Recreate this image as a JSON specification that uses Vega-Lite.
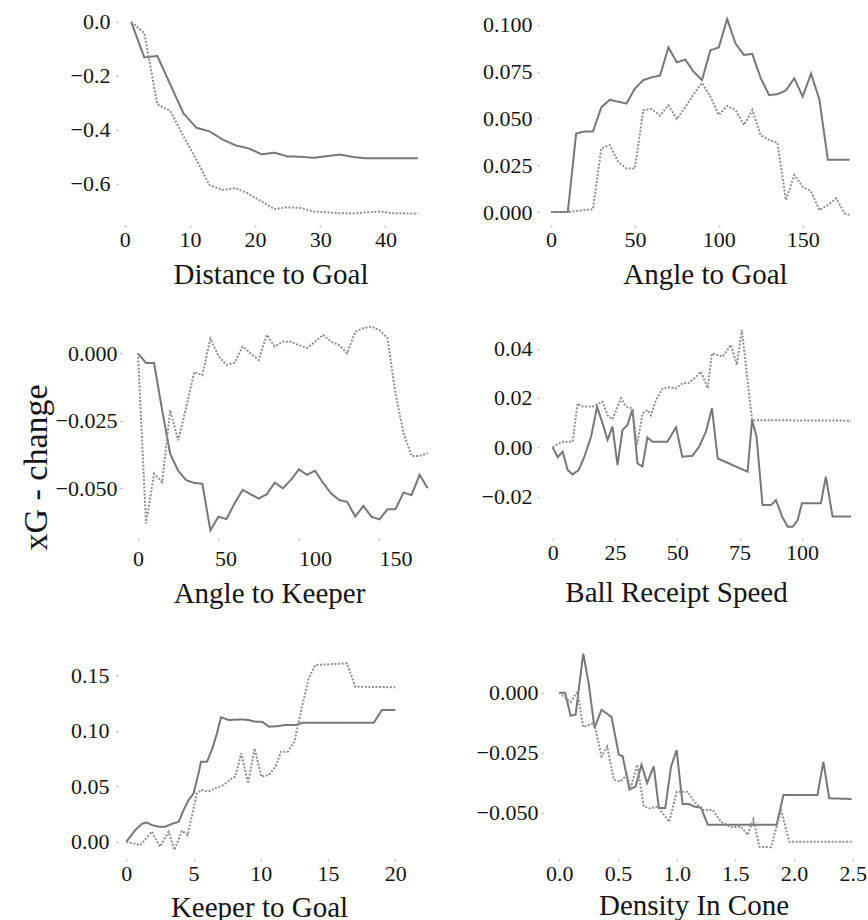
{
  "$schema": "https://vega.github.io/schema/vega-lite/v6.json",
  "background": "white",
  "autosize": {"type": "pad"},
  "padding": {"left": 18, "top": 10, "right": 2, "bottom": 2},
  "config": {
    "font": "Liberation Serif",
    "view": {"stroke": null},
    "axis": {
      "grid": false,
      "domain": false,
      "tickColor": "#b8b8b8",
      "tickSize": 2,
      "tickWidth": 1.6,
      "labelFont": "Liberation Serif",
      "labelFontSize": 22,
      "labelColor": "#141414",
      "titleFont": "Liberation Serif",
      "titleFontSize": 29,
      "titleFontWeight": "normal",
      "titleColor": "#141414"
    },
    "axisX": {"labelAngle": 0, "labelBaseline": "alphabetic", "labelPadding": 19, "labelFlush": false, "titleBaseline": "alphabetic", "titleAnchor": "middle", "titleAlign": "center"},
    "axisY": {"labelPadding": 5, "labelFlush": false},
    "line": {"strokeWidth": 2, "strokeCap": "butt", "strokeJoin": "miter", "interpolate": "linear"}
  },
  "datasets": {
    "dist": [
      {"x": 1, "y": 0, "m": "a"}, {"x": 3, "y": -0.131, "m": "a"}, {"x": 5, "y": -0.126, "m": "a"}, {"x": 7, "y": -0.232, "m": "a"}, {"x": 9, "y": -0.338, "m": "a"}, {"x": 11, "y": -0.392, "m": "a"}, {"x": 13, "y": -0.405, "m": "a"}, {"x": 15, "y": -0.435, "m": "a"}, {"x": 17, "y": -0.457, "m": "a"}, {"x": 19, "y": -0.468, "m": "a"}, {"x": 21, "y": -0.49, "m": "a"}, {"x": 23, "y": -0.484, "m": "a"}, {"x": 25, "y": -0.498, "m": "a"}, {"x": 27, "y": -0.499, "m": "a"}, {"x": 29, "y": -0.503, "m": "a"}, {"x": 31, "y": -0.497, "m": "a"}, {"x": 33, "y": -0.491, "m": "a"}, {"x": 35, "y": -0.5, "m": "a"}, {"x": 37, "y": -0.505, "m": "a"}, {"x": 39, "y": -0.505, "m": "a"}, {"x": 41, "y": -0.505, "m": "a"}, {"x": 43, "y": -0.505, "m": "a"}, {"x": 45, "y": -0.505, "m": "a"},
      {"x": 1, "y": 0, "m": "b"}, {"x": 3, "y": -0.04, "m": "b"}, {"x": 5, "y": -0.305, "m": "b"}, {"x": 7, "y": -0.33, "m": "b"}, {"x": 9, "y": -0.423, "m": "b"}, {"x": 11, "y": -0.51, "m": "b"}, {"x": 13, "y": -0.604, "m": "b"}, {"x": 15, "y": -0.622, "m": "b"}, {"x": 17, "y": -0.615, "m": "b"}, {"x": 19, "y": -0.636, "m": "b"}, {"x": 21, "y": -0.665, "m": "b"}, {"x": 23, "y": -0.693, "m": "b"}, {"x": 25, "y": -0.686, "m": "b"}, {"x": 27, "y": -0.689, "m": "b"}, {"x": 29, "y": -0.702, "m": "b"}, {"x": 31, "y": -0.705, "m": "b"}, {"x": 33, "y": -0.708, "m": "b"}, {"x": 35, "y": -0.709, "m": "b"}, {"x": 37, "y": -0.705, "m": "b"}, {"x": 39, "y": -0.702, "m": "b"}, {"x": 41, "y": -0.708, "m": "b"}, {"x": 43, "y": -0.709, "m": "b"}, {"x": 45, "y": -0.709, "m": "b"}
    ],
    "goalAngle": [
      {"x": 0, "y": 0, "m": "a"}, {"x": 5, "y": 0, "m": "a"}, {"x": 10, "y": 0, "m": "a"}, {"x": 15, "y": 0.042, "m": "a"}, {"x": 20, "y": 0.043, "m": "a"}, {"x": 25, "y": 0.043, "m": "a"}, {"x": 30, "y": 0.056, "m": "a"}, {"x": 35, "y": 0.06, "m": "a"}, {"x": 40, "y": 0.059, "m": "a"}, {"x": 45, "y": 0.058, "m": "a"}, {"x": 50, "y": 0.066, "m": "a"}, {"x": 55, "y": 0.0705, "m": "a"}, {"x": 60, "y": 0.072, "m": "a"}, {"x": 65, "y": 0.073, "m": "a"}, {"x": 70, "y": 0.088, "m": "a"}, {"x": 75, "y": 0.08, "m": "a"}, {"x": 80, "y": 0.0815, "m": "a"}, {"x": 85, "y": 0.075, "m": "a"}, {"x": 90, "y": 0.0705, "m": "a"}, {"x": 95, "y": 0.0865, "m": "a"}, {"x": 100, "y": 0.088, "m": "a"}, {"x": 105, "y": 0.1032, "m": "a"}, {"x": 110, "y": 0.09, "m": "a"}, {"x": 115, "y": 0.084, "m": "a"}, {"x": 120, "y": 0.0845, "m": "a"}, {"x": 125, "y": 0.0715, "m": "a"}, {"x": 130, "y": 0.0625, "m": "a"}, {"x": 135, "y": 0.063, "m": "a"}, {"x": 140, "y": 0.065, "m": "a"}, {"x": 145, "y": 0.0715, "m": "a"}, {"x": 150, "y": 0.0617, "m": "a"}, {"x": 155, "y": 0.074, "m": "a"}, {"x": 160, "y": 0.06, "m": "a"}, {"x": 165, "y": 0.028, "m": "a"}, {"x": 170, "y": 0.028, "m": "a"}, {"x": 175, "y": 0.028, "m": "a"}, {"x": 178, "y": 0.028, "m": "a"},
      {"x": 0, "y": 0, "m": "b"}, {"x": 5, "y": 0, "m": "b"}, {"x": 10, "y": 0, "m": "b"}, {"x": 15, "y": 0.0005, "m": "b"}, {"x": 20, "y": 0.001, "m": "b"}, {"x": 25, "y": 0.0015, "m": "b"}, {"x": 30, "y": 0.034, "m": "b"}, {"x": 35, "y": 0.0358, "m": "b"}, {"x": 40, "y": 0.027, "m": "b"}, {"x": 45, "y": 0.0233, "m": "b"}, {"x": 50, "y": 0.0233, "m": "b"}, {"x": 55, "y": 0.0545, "m": "b"}, {"x": 60, "y": 0.055, "m": "b"}, {"x": 65, "y": 0.0515, "m": "b"}, {"x": 70, "y": 0.057, "m": "b"}, {"x": 75, "y": 0.0497, "m": "b"}, {"x": 80, "y": 0.056, "m": "b"}, {"x": 85, "y": 0.063, "m": "b"}, {"x": 90, "y": 0.069, "m": "b"}, {"x": 95, "y": 0.0617, "m": "b"}, {"x": 100, "y": 0.0519, "m": "b"}, {"x": 105, "y": 0.0567, "m": "b"}, {"x": 110, "y": 0.0545, "m": "b"}, {"x": 115, "y": 0.0465, "m": "b"}, {"x": 120, "y": 0.0545, "m": "b"}, {"x": 125, "y": 0.041, "m": "b"}, {"x": 130, "y": 0.0385, "m": "b"}, {"x": 135, "y": 0.037, "m": "b"}, {"x": 140, "y": 0.0064, "m": "b"}, {"x": 145, "y": 0.0198, "m": "b"}, {"x": 150, "y": 0.0135, "m": "b"}, {"x": 155, "y": 0.011, "m": "b"}, {"x": 160, "y": 0.001, "m": "b"}, {"x": 165, "y": 0.0037, "m": "b"}, {"x": 170, "y": 0.0073, "m": "b"}, {"x": 175, "y": -0.0007, "m": "b"}, {"x": 178, "y": -0.0016, "m": "b"}
    ],
    "keeperAngle": [
      {"x": 0, "y": 0, "m": "a"}, {"x": 5, "y": -0.0036, "m": "a"}, {"x": 10, "y": -0.0036, "m": "a"}, {"x": 15, "y": -0.021, "m": "a"}, {"x": 20, "y": -0.0372, "m": "a"}, {"x": 25, "y": -0.0435, "m": "a"}, {"x": 30, "y": -0.047, "m": "a"}, {"x": 35, "y": -0.048, "m": "a"}, {"x": 40, "y": -0.0483, "m": "a"}, {"x": 45, "y": -0.0656, "m": "a"}, {"x": 50, "y": -0.0605, "m": "a"}, {"x": 55, "y": -0.0614, "m": "a"}, {"x": 60, "y": -0.0556, "m": "a"}, {"x": 65, "y": -0.0506, "m": "a"}, {"x": 70, "y": -0.0522, "m": "a"}, {"x": 75, "y": -0.0538, "m": "a"}, {"x": 80, "y": -0.0522, "m": "a"}, {"x": 85, "y": -0.0479, "m": "a"}, {"x": 90, "y": -0.05, "m": "a"}, {"x": 95, "y": -0.0469, "m": "a"}, {"x": 100, "y": -0.043, "m": "a"}, {"x": 105, "y": -0.045, "m": "a"}, {"x": 110, "y": -0.0435, "m": "a"}, {"x": 115, "y": -0.048, "m": "a"}, {"x": 120, "y": -0.0519, "m": "a"}, {"x": 125, "y": -0.0543, "m": "a"}, {"x": 130, "y": -0.055, "m": "a"}, {"x": 135, "y": -0.0605, "m": "a"}, {"x": 140, "y": -0.0565, "m": "a"}, {"x": 145, "y": -0.0605, "m": "a"}, {"x": 150, "y": -0.0615, "m": "a"}, {"x": 155, "y": -0.0578, "m": "a"}, {"x": 160, "y": -0.0577, "m": "a"}, {"x": 165, "y": -0.0516, "m": "a"}, {"x": 170, "y": -0.0525, "m": "a"}, {"x": 175, "y": -0.045, "m": "a"}, {"x": 180, "y": -0.05, "m": "a"},
      {"x": 0, "y": 0, "m": "b"}, {"x": 5, "y": -0.063, "m": "b"}, {"x": 10, "y": -0.0446, "m": "b"}, {"x": 15, "y": -0.0477, "m": "b"}, {"x": 20, "y": -0.0211, "m": "b"}, {"x": 25, "y": -0.0322, "m": "b"}, {"x": 30, "y": -0.02, "m": "b"}, {"x": 35, "y": -0.0069, "m": "b"}, {"x": 40, "y": -0.0081, "m": "b"}, {"x": 45, "y": 0.0054, "m": "b"}, {"x": 50, "y": -0.001, "m": "b"}, {"x": 55, "y": -0.0043, "m": "b"}, {"x": 60, "y": -0.0035, "m": "b"}, {"x": 65, "y": 0.0025, "m": "b"}, {"x": 70, "y": 0.0, "m": "b"}, {"x": 75, "y": -0.0025, "m": "b"}, {"x": 80, "y": 0.0068, "m": "b"}, {"x": 85, "y": 0.0025, "m": "b"}, {"x": 90, "y": 0.0043, "m": "b"}, {"x": 95, "y": 0.0043, "m": "b"}, {"x": 100, "y": 0.003, "m": "b"}, {"x": 105, "y": 0.0019, "m": "b"}, {"x": 110, "y": 0.0043, "m": "b"}, {"x": 115, "y": 0.0068, "m": "b"}, {"x": 120, "y": 0.0043, "m": "b"}, {"x": 125, "y": 0.003, "m": "b"}, {"x": 130, "y": 0.0, "m": "b"}, {"x": 135, "y": 0.008, "m": "b"}, {"x": 140, "y": 0.0093, "m": "b"}, {"x": 145, "y": 0.0099, "m": "b"}, {"x": 150, "y": 0.0086, "m": "b"}, {"x": 155, "y": 0.0056, "m": "b"}, {"x": 160, "y": -0.0148, "m": "b"}, {"x": 165, "y": -0.0296, "m": "b"}, {"x": 170, "y": -0.038, "m": "b"}, {"x": 175, "y": -0.038, "m": "b"}, {"x": 180, "y": -0.037, "m": "b"}
    ],
    "receiptSpeed": [
      {"x": 0, "y": 0, "m": "a"}, {"x": 2, "y": -0.004, "m": "a"}, {"x": 4, "y": -0.0018, "m": "a"}, {"x": 6, "y": -0.0092, "m": "a"}, {"x": 8, "y": -0.011, "m": "a"}, {"x": 10.4, "y": -0.0092, "m": "a"}, {"x": 12.7, "y": -0.0038, "m": "a"}, {"x": 15.4, "y": 0.0043, "m": "a"}, {"x": 17.8, "y": 0.0165, "m": "a"}, {"x": 20, "y": 0.0097, "m": "a"}, {"x": 22, "y": 0.003, "m": "a"}, {"x": 24, "y": 0.0084, "m": "a"}, {"x": 26, "y": -0.0072, "m": "a"}, {"x": 28, "y": 0.007, "m": "a"}, {"x": 30, "y": 0.009, "m": "a"}, {"x": 32, "y": 0.0154, "m": "a"}, {"x": 34, "y": -0.0065, "m": "a"}, {"x": 36, "y": -0.0078, "m": "a"}, {"x": 38, "y": 0.004, "m": "a"}, {"x": 40, "y": 0.0023, "m": "a"}, {"x": 46, "y": 0.0023, "m": "a"}, {"x": 49.5, "y": 0.0081, "m": "a"}, {"x": 52, "y": -0.0038, "m": "a"}, {"x": 56, "y": -0.0035, "m": "a"}, {"x": 58.8, "y": 0.0003, "m": "a"}, {"x": 61.5, "y": 0.0064, "m": "a"}, {"x": 63.9, "y": 0.0158, "m": "a"}, {"x": 66.2, "y": -0.0045, "m": "a"}, {"x": 78.2, "y": -0.0099, "m": "a"}, {"x": 80, "y": 0.011, "m": "a"}, {"x": 81.8, "y": 0.0043, "m": "a"}, {"x": 84.2, "y": -0.0234, "m": "a"}, {"x": 87.6, "y": -0.0234, "m": "a"}, {"x": 89.6, "y": -0.0214, "m": "a"}, {"x": 92, "y": -0.028, "m": "a"}, {"x": 94.3, "y": -0.0322, "m": "a"}, {"x": 96.3, "y": -0.0322, "m": "a"}, {"x": 98.3, "y": -0.0295, "m": "a"}, {"x": 100, "y": -0.0227, "m": "a"}, {"x": 107.6, "y": -0.0227, "m": "a"}, {"x": 109.6, "y": -0.0119, "m": "a"}, {"x": 112.3, "y": -0.0281, "m": "a"}, {"x": 119.7, "y": -0.0281, "m": "a"},
      {"x": 0, "y": 0, "m": "b"}, {"x": 3.7, "y": 0.0023, "m": "b"}, {"x": 8, "y": 0.0023, "m": "b"}, {"x": 10, "y": 0.0178, "m": "b"}, {"x": 12, "y": 0.0165, "m": "b"}, {"x": 16, "y": 0.0165, "m": "b"}, {"x": 20, "y": 0.0185, "m": "b"}, {"x": 22, "y": 0.013, "m": "b"}, {"x": 24, "y": 0.0114, "m": "b"}, {"x": 27.4, "y": 0.0199, "m": "b"}, {"x": 29.4, "y": 0.0165, "m": "b"}, {"x": 32, "y": 0.0158, "m": "b"}, {"x": 33.8, "y": 0.001, "m": "b"}, {"x": 36.1, "y": 0.0138, "m": "b"}, {"x": 38.1, "y": 0.0151, "m": "b"}, {"x": 39.4, "y": 0.013, "m": "b"}, {"x": 41.4, "y": 0.019, "m": "b"}, {"x": 44.1, "y": 0.0239, "m": "b"}, {"x": 46.8, "y": 0.0243, "m": "b"}, {"x": 49.5, "y": 0.0239, "m": "b"}, {"x": 52.1, "y": 0.026, "m": "b"}, {"x": 54.8, "y": 0.0262, "m": "b"}, {"x": 57.5, "y": 0.0286, "m": "b"}, {"x": 59.5, "y": 0.0307, "m": "b"}, {"x": 62.2, "y": 0.0239, "m": "b"}, {"x": 63.9, "y": 0.0381, "m": "b"}, {"x": 66.2, "y": 0.0374, "m": "b"}, {"x": 68.2, "y": 0.0368, "m": "b"}, {"x": 71.5, "y": 0.0415, "m": "b"}, {"x": 73.9, "y": 0.0334, "m": "b"}, {"x": 75.9, "y": 0.0476, "m": "b"}, {"x": 80, "y": 0.011, "m": "b"}, {"x": 119.7, "y": 0.0108, "m": "b"}
    ],
    "keeperGoal": [
      {"x": 0, "y": 0, "m": "a"}, {"x": 0.67, "y": 0.0105, "m": "a"}, {"x": 1.16, "y": 0.016, "m": "a"}, {"x": 1.54, "y": 0.0174, "m": "a"}, {"x": 1.9, "y": 0.015, "m": "a"}, {"x": 2.4, "y": 0.0135, "m": "a"}, {"x": 2.9, "y": 0.0135, "m": "a"}, {"x": 3.5, "y": 0.0165, "m": "a"}, {"x": 3.9, "y": 0.018, "m": "a"}, {"x": 4.26, "y": 0.0285, "m": "a"}, {"x": 4.63, "y": 0.0375, "m": "a"}, {"x": 5, "y": 0.0435, "m": "a"}, {"x": 5.4, "y": 0.063, "m": "a"}, {"x": 5.55, "y": 0.072, "m": "a"}, {"x": 6, "y": 0.072, "m": "a"}, {"x": 6.4, "y": 0.084, "m": "a"}, {"x": 6.74, "y": 0.0975, "m": "a"}, {"x": 7.04, "y": 0.112, "m": "a"}, {"x": 7.6, "y": 0.1095, "m": "a"}, {"x": 8.6, "y": 0.11, "m": "a"}, {"x": 9.1, "y": 0.1095, "m": "a"}, {"x": 9.6, "y": 0.108, "m": "a"}, {"x": 10.1, "y": 0.108, "m": "a"}, {"x": 10.6, "y": 0.1035, "m": "a"}, {"x": 11.3, "y": 0.104, "m": "a"}, {"x": 11.8, "y": 0.105, "m": "a"}, {"x": 12.6, "y": 0.105, "m": "a"}, {"x": 13.1, "y": 0.107, "m": "a"}, {"x": 18.4, "y": 0.107, "m": "a"}, {"x": 19, "y": 0.1185, "m": "a"}, {"x": 20, "y": 0.1185, "m": "a"},
      {"x": 0, "y": 0, "m": "b"}, {"x": 1.04, "y": -0.003, "m": "b"}, {"x": 1.9, "y": 0.009, "m": "b"}, {"x": 2.5, "y": -0.0045, "m": "b"}, {"x": 3.15, "y": 0.009, "m": "b"}, {"x": 3.57, "y": -0.0075, "m": "b"}, {"x": 4.14, "y": 0.0099, "m": "b"}, {"x": 4.56, "y": 0.006, "m": "b"}, {"x": 5.25, "y": 0.0435, "m": "b"}, {"x": 5.6, "y": 0.0465, "m": "b"}, {"x": 6.1, "y": 0.045, "m": "b"}, {"x": 6.6, "y": 0.048, "m": "b"}, {"x": 7.24, "y": 0.051, "m": "b"}, {"x": 7.86, "y": 0.057, "m": "b"}, {"x": 8.1, "y": 0.0585, "m": "b"}, {"x": 8.55, "y": 0.0795, "m": "b"}, {"x": 9.05, "y": 0.0525, "m": "b"}, {"x": 9.54, "y": 0.084, "m": "b"}, {"x": 10.04, "y": 0.0585, "m": "b"}, {"x": 10.6, "y": 0.06, "m": "b"}, {"x": 11.1, "y": 0.0675, "m": "b"}, {"x": 11.5, "y": 0.081, "m": "b"}, {"x": 12, "y": 0.081, "m": "b"}, {"x": 12.5, "y": 0.09, "m": "b"}, {"x": 13.06, "y": 0.1215, "m": "b"}, {"x": 13.56, "y": 0.147, "m": "b"}, {"x": 14.05, "y": 0.159, "m": "b"}, {"x": 16.4, "y": 0.1605, "m": "b"}, {"x": 17.03, "y": 0.1395, "m": "b"}, {"x": 20, "y": 0.139, "m": "b"}
    ],
    "coneDensity": [
      {"x": 0, "y": 0, "m": "a"}, {"x": 0.05, "y": 0, "m": "a"}, {"x": 0.096, "y": -0.0096, "m": "a"}, {"x": 0.139, "y": -0.0092, "m": "a"}, {"x": 0.204, "y": 0.0163, "m": "a"}, {"x": 0.25, "y": 0.004, "m": "a"}, {"x": 0.3, "y": -0.0147, "m": "a"}, {"x": 0.36, "y": -0.0071, "m": "a"}, {"x": 0.445, "y": -0.0101, "m": "a"}, {"x": 0.507, "y": -0.0258, "m": "a"}, {"x": 0.54, "y": -0.0265, "m": "a"}, {"x": 0.598, "y": -0.0404, "m": "a"}, {"x": 0.65, "y": -0.039, "m": "a"}, {"x": 0.7, "y": -0.03, "m": "a"}, {"x": 0.748, "y": -0.0376, "m": "a"}, {"x": 0.805, "y": -0.0307, "m": "a"}, {"x": 0.848, "y": -0.048, "m": "a"}, {"x": 0.903, "y": -0.048, "m": "a"}, {"x": 0.952, "y": -0.0308, "m": "a"}, {"x": 1.0, "y": -0.0239, "m": "a"}, {"x": 1.05, "y": -0.0464, "m": "a"}, {"x": 1.108, "y": -0.0464, "m": "a"}, {"x": 1.15, "y": -0.0475, "m": "a"}, {"x": 1.207, "y": -0.0478, "m": "a"}, {"x": 1.264, "y": -0.055, "m": "a"}, {"x": 1.852, "y": -0.055, "m": "a"}, {"x": 1.91, "y": -0.0426, "m": "a"}, {"x": 2.2, "y": -0.0426, "m": "a"}, {"x": 2.25, "y": -0.0288, "m": "a"}, {"x": 2.3, "y": -0.044, "m": "a"}, {"x": 2.49, "y": -0.0443, "m": "a"},
      {"x": 0, "y": 0, "m": "b"}, {"x": 0.096, "y": -0.004, "m": "b"}, {"x": 0.153, "y": 0.0005, "m": "b"}, {"x": 0.204, "y": -0.0143, "m": "b"}, {"x": 0.295, "y": -0.0126, "m": "b"}, {"x": 0.36, "y": -0.0265, "m": "b"}, {"x": 0.408, "y": -0.0224, "m": "b"}, {"x": 0.465, "y": -0.0363, "m": "b"}, {"x": 0.52, "y": -0.037, "m": "b"}, {"x": 0.578, "y": -0.0342, "m": "b"}, {"x": 0.606, "y": -0.0404, "m": "b"}, {"x": 0.663, "y": -0.03, "m": "b"}, {"x": 0.72, "y": -0.0474, "m": "b"}, {"x": 0.767, "y": -0.0482, "m": "b"}, {"x": 0.838, "y": -0.0475, "m": "b"}, {"x": 0.937, "y": -0.0538, "m": "b"}, {"x": 1.0, "y": -0.0413, "m": "b"}, {"x": 1.094, "y": -0.0413, "m": "b"}, {"x": 1.15, "y": -0.0454, "m": "b"}, {"x": 1.222, "y": -0.0489, "m": "b"}, {"x": 1.307, "y": -0.0489, "m": "b"}, {"x": 1.378, "y": -0.0538, "m": "b"}, {"x": 1.463, "y": -0.0561, "m": "b"}, {"x": 1.548, "y": -0.0558, "m": "b"}, {"x": 1.605, "y": -0.0593, "m": "b"}, {"x": 1.653, "y": -0.0528, "m": "b"}, {"x": 1.705, "y": -0.0642, "m": "b"}, {"x": 1.804, "y": -0.0644, "m": "b"}, {"x": 1.889, "y": -0.0489, "m": "b"}, {"x": 1.96, "y": -0.0621, "m": "b"}, {"x": 2.49, "y": -0.0621, "m": "b"}
    ]
  },
  "columns": 2,
  "align": "each",
  "bounds": "flush",
  "spacing": {"row": 98, "column": 111},
  "concat": [
    {
      "width": 310, "height": 215,
      "data": {"name": "dist"},
      "mark": "line",
      "encoding": {
        "x": {"field": "x", "type": "quantitative", "scale": {"domain": [-1.03, 46.52], "nice": false, "zero": false},
              "axis": {"values": [0, 10, 20, 30, 40], "format": "d", "title": "Distance to Goal", "titleX": 152.5, "titleY": 58}},
        "y": {"field": "y", "type": "quantitative", "scale": {"domain": [-0.7519, 0.0444], "nice": false, "zero": false},
              "axis": {"values": [0, -0.2, -0.4, -0.6], "format": ".1f", "title": null, "labelPadding": 6}},
        "color": {"field": "m", "type": "nominal", "scale": {"domain": ["a", "b"], "range": ["#777777", "#8e8e8e"]}, "legend": null},
        "strokeDash": {"field": "m", "type": "nominal", "scale": {"domain": ["a", "b"], "range": [[1, 0], [2, 1.6]]}, "legend": null}
      }
    },
    {
      "width": 314, "height": 215,
      "data": {"name": "goalAngle"},
      "mark": "line",
      "encoding": {
        "x": {"field": "x", "type": "quantitative", "scale": {"domain": [-7.15, 180.0], "nice": false, "zero": false},
              "axis": {"values": [0, 50, 100, 150], "format": "d", "title": "Angle to Goal", "titleX": 166, "titleY": 58}},
        "y": {"field": "y", "type": "quantitative", "scale": {"domain": [-0.00695, 0.108], "nice": false, "zero": false},
              "axis": {"values": [0, 0.025, 0.05, 0.075, 0.1], "format": ".3f", "title": null}},
        "color": {"field": "m", "type": "nominal", "scale": {"domain": ["a", "b"], "range": ["#777777", "#8e8e8e"]}, "legend": null},
        "strokeDash": {"field": "m", "type": "nominal", "scale": {"domain": ["a", "b"], "range": [[1, 0], [2, 1.6]]}, "legend": null}
      }
    },
    {
      "width": 310, "height": 215,
      "data": {"name": "keeperAngle"},
      "mark": "line",
      "encoding": {
        "x": {"field": "x", "type": "quantitative", "scale": {"domain": [-12.4, 180.2], "nice": false, "zero": false},
              "axis": {"values": [0, 50, 100, 150], "format": "d", "title": "Angle to Keeper", "titleX": 151, "titleY": 64, "labelPadding": 25,
                       "labelOffset": {"condition": [{"test": "datum.value == 50", "value": 7}, {"test": "datum.value >= 100", "value": 16}], "value": 0}}},
        "y": {"field": "y", "type": "quantitative", "scale": {"domain": [-0.0684, 0.01122], "nice": false, "zero": false},
              "axis": {"values": [0, -0.025, -0.05], "format": ".3f", "offset": -4, "labelPadding": 3, "title": "xG - change", "titleFontSize": 34, "titleAngle": -90, "titleBaseline": "alphabetic", "titleAlign": "center", "titleX": -76, "titleY": 144}},
        "color": {"field": "m", "type": "nominal", "scale": {"domain": ["a", "b"], "range": ["#777777", "#8e8e8e"]}, "legend": null},
        "strokeDash": {"field": "m", "type": "nominal", "scale": {"domain": ["a", "b"], "range": [[1, 0], [2, 1.6]]}, "legend": null}
      }
    },
    {
      "width": 314, "height": 215,
      "data": {"name": "receiptSpeed"},
      "mark": "line",
      "encoding": {
        "x": {"field": "x", "type": "quantitative", "scale": {"domain": [-5.5, 120.5], "nice": false, "zero": false},
              "axis": {"values": [0, 25, 50, 75, 100], "format": "d", "title": "Ball Receipt Speed", "titleX": 137, "titleY": 63}},
        "y": {"field": "y", "type": "quantitative", "scale": {"domain": [-0.03677, 0.0504], "nice": false, "zero": false},
              "axis": {"values": [-0.02, 0, 0.02, 0.04], "format": ".2f", "title": null}},
        "color": {"field": "m", "type": "nominal", "scale": {"domain": ["a", "b"], "range": ["#777777", "#8e8e8e"]}, "legend": null},
        "strokeDash": {"field": "m", "type": "nominal", "scale": {"domain": ["a", "b"], "range": [[1, 0], [2, 1.6]]}, "legend": null}
      }
    },
    {
      "width": 310, "height": 223,
      "data": {"name": "keeperGoal"},
      "mark": "line",
      "encoding": {
        "x": {"field": "x", "type": "quantitative", "scale": {"domain": [-0.617, 22.43], "nice": false, "zero": false},
              "axis": {"values": [0, 5, 10, 15, 20], "format": "d", "title": "Keeper to Goal", "titleX": 141, "titleY": 57}},
        "y": {"field": "y", "type": "quantitative", "scale": {"domain": [-0.01557, 0.1851], "nice": false, "zero": false},
              "axis": {"values": [0, 0.05, 0.1, 0.15], "format": ".2f", "title": null, "labelPadding": 7}},
        "color": {"field": "m", "type": "nominal", "scale": {"domain": ["a", "b"], "range": ["#777777", "#8e8e8e"]}, "legend": null},
        "strokeDash": {"field": "m", "type": "nominal", "scale": {"domain": ["a", "b"], "range": [[1, 0], [2, 1.6]]}, "legend": null}
      }
    },
    {
      "width": 314, "height": 223,
      "data": {"name": "coneDensity"},
      "mark": "line",
      "encoding": {
        "x": {"field": "x", "type": "quantitative", "scale": {"domain": [-0.173, 2.5025], "nice": false, "zero": false},
              "axis": {"values": [0, 0.5, 1, 1.5, 2, 2.5], "format": ".1f", "title": "Density In Cone", "titleX": 154.5, "titleY": 55}},
        "y": {"field": "y", "type": "quantitative", "scale": {"domain": [-0.0693, 0.02362], "nice": false, "zero": false},
              "axis": {"values": [0, -0.025, -0.05], "format": ".3f", "title": null, "offset": -4, "labelPadding": 3}},
        "color": {"field": "m", "type": "nominal", "scale": {"domain": ["a", "b"], "range": ["#777777", "#8e8e8e"]}, "legend": null},
        "strokeDash": {"field": "m", "type": "nominal", "scale": {"domain": ["a", "b"], "range": [[1, 0], [2, 1.6]]}, "legend": null}
      }
    }
  ]
}
